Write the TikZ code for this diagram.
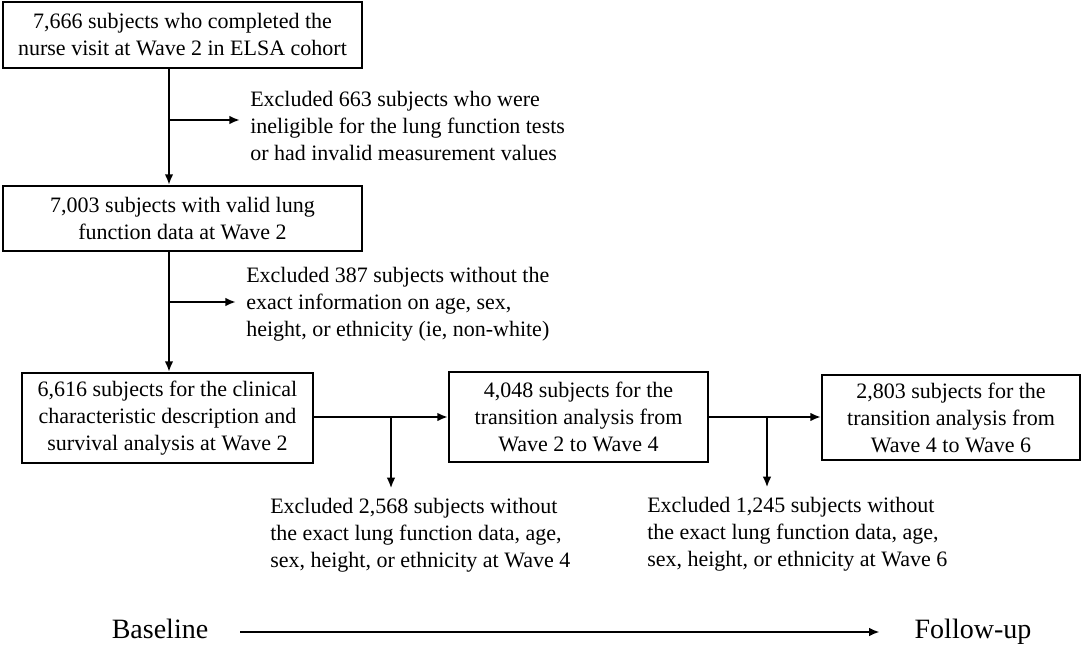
\documentclass[tikz,border=0pt]{standalone}
\usepackage{fontspec}
\setmainfont{Liberation Serif}
\usetikzlibrary{arrows.meta}
\begin{document}
\begin{tikzpicture}[x=0.75pt,y=-0.75pt,
  box/.style={draw,line width=1.6pt,inner sep=0pt,align=center,
    font=\fontsize{16.5pt}{20.25pt}\selectfont},
  note/.style={inner sep=0pt,align=left,
    font=\fontsize{16.5pt}{20.25pt}\selectfont},
  tl/.style={inner sep=0pt,text height=15pt,text depth=5pt,font=\fontsize{21pt}{24pt}\selectfont},
  arr/.style={line width=2pt,-{Latex[length=8pt,width=6.5pt]}},
  ln/.style={line width=2pt}]
\useasboundingbox (0,0) rectangle (1084,648);

\node[box,minimum width=269.25pt,minimum height=49.5pt] (b1) at (182.5,35)
  {7,666 subjects who completed the\\nurse visit at Wave 2 in ELSA cohort};
\node[box,minimum width=269.25pt,minimum height=48.75pt] (b2) at (182.5,218.5)
  {7,003 subjects with valid lung\\function data at Wave 2};
\node[box,minimum width=218.25pt,minimum height=67.5pt] (b3) at (167.5,418)
  {6,616 subjects for the clinical\\characteristic description and\\survival analysis at Wave 2};
\node[box,minimum width=194.25pt,minimum height=67.5pt] (b4) at (578.5,417)
  {4,048 subjects for the\\transition analysis from\\Wave 2 to Wave 4};
\node[box,minimum width=193.5pt,minimum height=64pt] (b5) at (951,417.5)
  {2,803 subjects for the\\transition analysis from\\Wave 4 to Wave 6};

\node[note,inner xsep=7.5pt,anchor=west] (e1) at (240,126)
  {Excluded 663 subjects who were\\ineligible for the lung function tests\\or had invalid measurement values};
\node[note,inner xsep=7.5pt,anchor=west] (e2) at (236,304)
  {Excluded 387 subjects without the\\exact information on age, sex,\\height, or ethnicity (ie, non-white)};
\node[note,inner ysep=7pt,anchor=west] (e3) at (270,535)
  {Excluded 2,568 subjects without\\the exact lung function data, age,\\sex, height, or ethnicity at Wave 4};
\node[note,inner ysep=7pt,anchor=west] (e4) at (647,534)
  {Excluded 1,245 subjects without\\the exact lung function data, age,\\sex, height, or ethnicity at Wave 6};

\coordinate (v) at (169,0);
\coordinate (j1) at (169,120);
\coordinate (j2) at (169,302);
\coordinate (j3) at (391,417);
\coordinate (j4) at (767,417);

\draw[arr] (b1.south -| v) -- (b2.north -| v);
\draw[arr] (j1) -- (j1 -| e1.west);
\draw[arr] (b2.south -| v) -- (b3.north -| v);
\draw[arr] (j2) -- (j2 -| e2.west);
\draw[arr] (b3.east |- j3) -- (b4.west |- j3);
\draw[arr] (j3) -- (j3 |- e3.north);
\draw[arr] (b4.east |- j4) -- (b5.west |- j4);
\draw[arr] (j4) -- (j4 |- e4.north);

\node[tl,inner xsep=24pt] (bl) at (160,632) {Baseline};
\node[tl,inner xsep=26pt] (fu) at (973,632) {Follow-up};
\draw[arr,line width=1.8pt] (bl.east) -- (fu.west);
\end{tikzpicture}
\end{document}
